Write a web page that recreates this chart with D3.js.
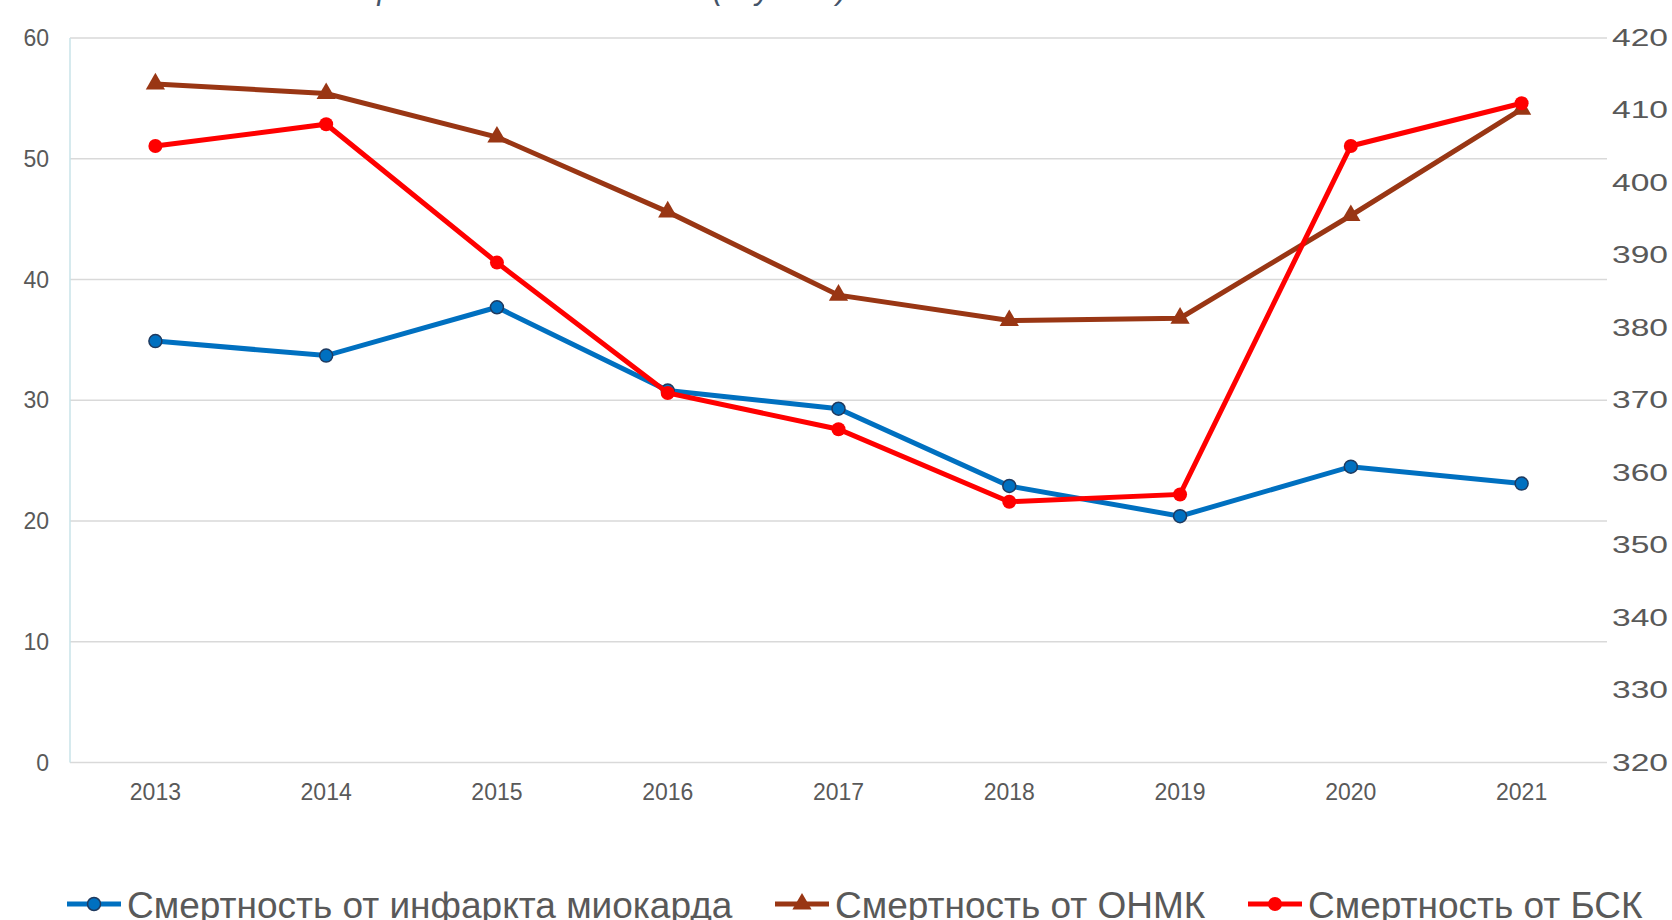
<html>
<script src="https://d3js.org/d3.v7.min.js"></script>
<head>
<style>
  body { margin: 0; background: #fff; }
  text { font-family: "Liberation Sans", Arial, sans-serif; }
</style>
</head>
<body>
<svg id="my_svg" width="1672" height="920"></svg>
<script>
  // data
  const years = ['2013', '2014', '2015', '2016', '2017', '2018', '2019', '2020', '2021']
  const mi = [34.9, 33.7, 37.7, 30.8, 29.3, 22.9, 20.4, 24.5, 23.1]        // left axis
  const onmk = [56.2, 55.4, 51.8, 45.6, 38.7, 36.6, 36.8, 45.3, 54.1]     // left axis
  const bsk = [405.1, 408.1, 389.0, 371.0, 366.0, 356.0, 357.0, 405.1, 411.0] // right axis
  const leftTicks = [0, 10, 20, 30, 40, 50, 60]
  const rightTicks = [320, 330, 340, 350, 360, 370, 380, 390, 400, 410, 420]
  const legendNames = ['Смертность от инфаркта миокарда', 'Смертность от ОНМК', 'Смертность от БСК']

  const svg = d3.select('#my_svg')
  const plotLeft = 70, plotRight = 1607, plotTop = 38, plotBottom = 762.5

  const xs = d3.scalePoint().domain(years).range([plotLeft, plotRight]).padding(0.5)
  const yl = d3.scaleLinear().domain([0, 60]).range([plotBottom, plotTop])
  const yr = d3.scaleLinear().domain([320, 420]).range([plotBottom, plotTop])

  // cut off title at the very top, only the descenders show
  svg.append('text')
    .attr('x', 338).attr('y', -1)
    .attr('font-size', 30.8).attr('font-style', 'italic')
    .attr('fill', '#44546a')
    .text('Первичная летальность (случаев) на 100 тыс. населения')

  // gridlines
  svg.append('g').selectAll('line').data(leftTicks).enter().append('line')
    .attr('x1', plotLeft).attr('x2', plotRight)
    .attr('y1', d => yl(d)).attr('y2', d => yl(d))
    .attr('stroke', '#d9d9d9').attr('stroke-width', 1.5)

  // left axis line
  svg.append('line')
    .attr('x1', plotLeft).attr('x2', plotLeft).attr('y1', plotTop).attr('y2', plotBottom)
    .attr('stroke', '#c8e3e8').attr('stroke-width', 1.5)

  // left labels
  svg.append('g').selectAll('text').data(leftTicks).enter().append('text')
    .attr('x', 49).attr('y', d => yl(d) + 8)
    .attr('text-anchor', 'end').attr('font-size', 23).attr('fill', '#595959')
    .text(d => d)

  // right labels (drawn a bit wider, as in the original)
  svg.append('g').selectAll('text').data(rightTicks).enter().append('text')
    .attr('transform', d => 'translate(1612,' + (yr(d) + 8) + ') scale(1.46,1)')
    .attr('font-size', 23).attr('fill', '#595959')
    .text(d => d)

  // x labels
  svg.append('g').selectAll('text').data(years).enter().append('text')
    .attr('x', d => xs(d)).attr('y', 800)
    .attr('text-anchor', 'middle').attr('font-size', 23).attr('fill', '#595959')
    .text(d => d)

  const lineL = d3.line().x((d, i) => xs(years[i])).y(d => yl(d))
  const lineR = d3.line().x((d, i) => xs(years[i])).y(d => yr(d))
  const tri = d3.symbol().type(d3.symbolTriangle).size(160)

  // blue - MI
  svg.append('path').datum(mi).attr('d', lineL)
    .attr('fill', 'none').attr('stroke', '#0070c0').attr('stroke-width', 5)
  svg.append('g').selectAll('circle').data(mi).enter().append('circle')
    .attr('cx', (d, i) => xs(years[i])).attr('cy', d => yl(d)).attr('r', 6.5)
    .attr('fill', '#0070c0').attr('stroke', '#1f3a5f').attr('stroke-width', 1.5)

  // brown - ONMK
  svg.append('path').datum(onmk).attr('d', lineL)
    .attr('fill', 'none').attr('stroke', '#993614').attr('stroke-width', 5)
  svg.append('g').selectAll('path').data(onmk).enter().append('path')
    .attr('d', tri)
    .attr('transform', (d, i) => 'translate(' + xs(years[i]) + ',' + yl(d) + ')')
    .attr('fill', '#993614')

  // red - BSK
  svg.append('path').datum(bsk).attr('d', lineR)
    .attr('fill', 'none').attr('stroke', '#ff0000').attr('stroke-width', 5)
  svg.append('g').selectAll('circle').data(bsk).enter().append('circle')
    .attr('cx', (d, i) => xs(years[i])).attr('cy', d => yr(d)).attr('r', 7)
    .attr('fill', '#ff0000')

  // legend
  const legendX = [67, 775, 1248]
  const legendColors = ['#0070c0', '#993614', '#ff0000']
  const ly = 904
  legendNames.forEach(function (name, i) {
    const x0 = legendX[i]
    svg.append('line')
      .attr('x1', x0).attr('x2', x0 + 54).attr('y1', ly).attr('y2', ly)
      .attr('stroke', legendColors[i]).attr('stroke-width', 5)
    if (i == 0) {
      svg.append('circle').attr('cx', x0 + 27).attr('cy', ly).attr('r', 6.5)
        .attr('fill', '#0070c0').attr('stroke', '#1f3a5f').attr('stroke-width', 1.5)
    } else if (i == 1) {
      svg.append('path').attr('d', tri)
        .attr('transform', 'translate(' + (x0 + 27) + ',' + ly + ')')
        .attr('fill', '#993614')
    } else {
      svg.append('circle').attr('cx', x0 + 27).attr('cy', ly).attr('r', 7)
        .attr('fill', '#ff0000')
    }
    svg.append('text')
      .attr('x', x0 + 60).attr('y', 918)
      .attr('font-size', 37).attr('fill', '#595959')
      .text(name)
  })
</script>
</body>
</html>
